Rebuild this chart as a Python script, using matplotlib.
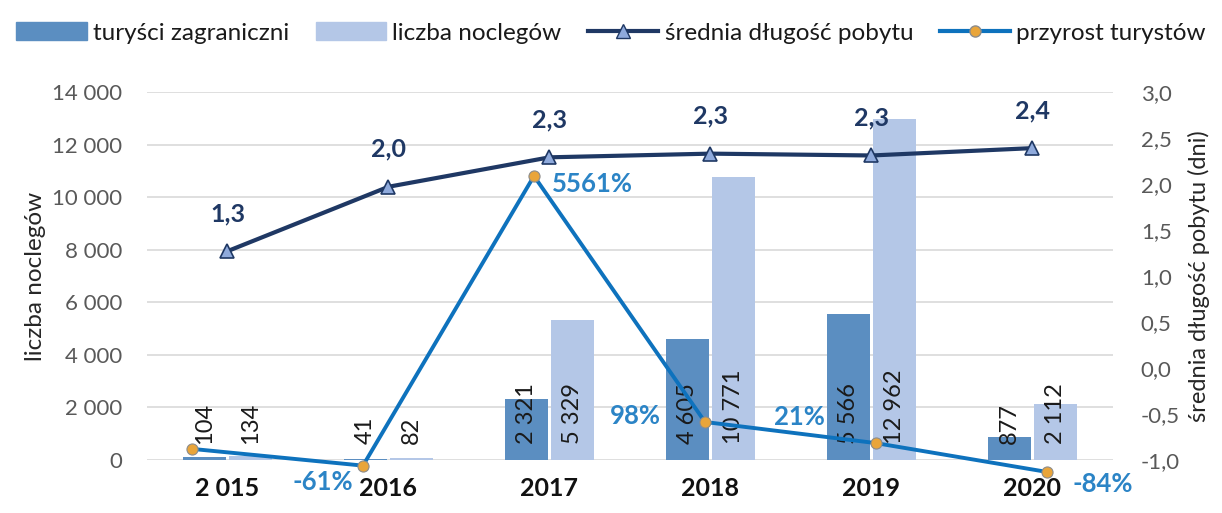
import numpy as np
import matplotlib
matplotlib.use("Agg")
from matplotlib import pyplot as plt
from matplotlib.patches import Patch
from matplotlib.lines import Line2D
from matplotlib.ticker import FuncFormatter

plt.rcParams['font.family'] = ['Lato', 'DejaVu Sans']

years = ["2 015", "2016", "2017", "2018", "2019", "2020"]
turysci = [104, 41, 2321, 4605, 5566, 877]
noclegi = [134, 82, 5329, 10771, 12962, 2112]
srednia = [1.27, 1.97, 2.29, 2.33, 2.31, 2.39]
przyrost = [0, -61, 5561, 98, 21, -84]   # %
przyrost_labels = ["", "-61%", "5561%", "98%", "21%", "-84%"]

DARK = "#5B8EC1"
LIGHT = "#B4C7E7"
NAVY = "#1F3864"
BLUE = "#0E72BD"
PCT = "#2B84C6"
GOLD = "#E9A53A"

fig = plt.figure(figsize=(12.22, 5.13), dpi=100)
pos = [147 / 1222, 53 / 513, 966 / 1222, 368 / 513]
ax = fig.add_axes(pos)

x = np.arange(len(years))
w = 0.267
ax.bar(x - 0.143, turysci, w, color=DARK, zorder=2)
ax.bar(x + 0.143, noclegi, w, color=LIGHT, zorder=2)
for i in range(len(years)):
    ax.text(x[i] - 0.143, 600, f"{turysci[i]:,}".replace(",", " "), rotation=90,
            ha='center', va='bottom', fontsize=17, color="#1a1a1a", zorder=3)
    ax.text(x[i] + 0.143, 600, f"{noclegi[i]:,}".replace(",", " "), rotation=90,
            ha='center', va='bottom', fontsize=17, color="#1a1a1a", zorder=3)

ax.set_xlim(-0.5, len(years) - 0.5)
ax.set_ylim(0, 14000)
ax.set_yticks(range(0, 14001, 2000))
ax.yaxis.set_major_formatter(FuncFormatter(lambda v, p: f"{int(v):,}".replace(",", " ")))
ax.grid(axis='y', color="#D9D9D9", linewidth=1.2, zorder=0)
ax.set_axisbelow(True)
ax.set_xticks(x)
ax.set_xticklabels(years, fontweight='bold')
for s in ax.spines.values():
    s.set_visible(False)
ax.tick_params(axis='y', length=0, labelsize=16, labelcolor="#595959", pad=18)
ax.tick_params(axis='x', length=0, pad=12, labelsize=18, labelcolor="#111111")
ax.set_ylabel("liczba noclegów", fontsize=17.5, color="#262626", labelpad=4)

# srednia dlugosc pobytu - right axis
ax2 = ax.twinx()
ax2.plot(x, srednia, color=NAVY, linewidth=3, marker='^', markersize=10,
         markerfacecolor="#8FAADC", markeredgecolor=NAVY, markeredgewidth=1.2, zorder=4)
for i, v in enumerate(srednia):
    ax2.annotate(f"{v:.1f}".replace(".", ","), (x[i], v), xytext=(0, 27),
                 textcoords='offset points', ha='center', va='center',
                 fontsize=18, fontweight='bold', color=NAVY)
ax2.set_ylim(-1, 3)
ax2.set_yticks(np.arange(-1, 3.01, 0.5))
ax2.yaxis.set_major_formatter(FuncFormatter(lambda v, p: f"{v:.1f}".replace(".", ",")))
for s in ax2.spines.values():
    s.set_visible(False)
ax2.tick_params(axis='y', length=0, labelsize=16, labelcolor="#595959", pad=20)
ax2.set_ylabel("średnia długość pobytu (dni)", fontsize=17, color="#262626", labelpad=6)

# przyrost turystow - hidden secondary axes, compressed above 100%
k = 0.1637
fwd = lambda v: np.where(v > 100, 100 + (v - 100) * k, v)
inv = lambda u: np.where(u > 100, 100 + (u - 100) / k, u)
ax3 = fig.add_axes(pos, frameon=False)
ax3.set_yscale('function', functions=(fwd, inv))
ax3.plot(x, przyrost, color=BLUE, linewidth=2.8, marker='o', markersize=8,
         markerfacecolor=GOLD, markeredgecolor="#8C8C8C", markeredgewidth=0.8,
         clip_on=False, zorder=5)
ax3.set_xlim(-0.263, len(years) - 1 + 0.386)
ax3.set_ylim(-40.5, float(inv(np.array(1300.0))))
ax3.set_xticks([])
ax3.set_yticks([])
ax3.minorticks_off()
offs = [(0, 0), (-29, -12), (42, -6), (-50, 4), (-55, 19), (40, -9)]
for i, lab in enumerate(przyrost_labels):
    if lab:
        ax3.annotate(lab, (x[i], przyrost[i]), xytext=offs[i], textcoords='offset points',
                     ha='center', va='center', fontsize=18.5, fontweight='bold',
                     color=PCT, annotation_clip=False)

handles = [
    Patch(color=DARK, label="turyści zagraniczni"),
    Patch(color=LIGHT, label="liczba noclegów"),
    Line2D([], [], color=NAVY, linewidth=3, marker='^', markersize=10,
           markerfacecolor="#8FAADC", markeredgecolor=NAVY, label="średnia długość pobytu"),
    Line2D([], [], color=BLUE, linewidth=3, marker='o', markersize=8,
           markerfacecolor=GOLD, markeredgecolor="#8C8C8C", label="przyrost turystów"),
]
fig.legend(handles=handles, loc='upper center', bbox_to_anchor=(0.5, 1.0), ncol=4,
           frameon=False, fontsize=17.5, handlelength=2.9, handleheight=0.8,
           handletextpad=0.25, columnspacing=1.1, labelcolor="#1a1a1a")

plt.savefig("out.png", dpi=100)
